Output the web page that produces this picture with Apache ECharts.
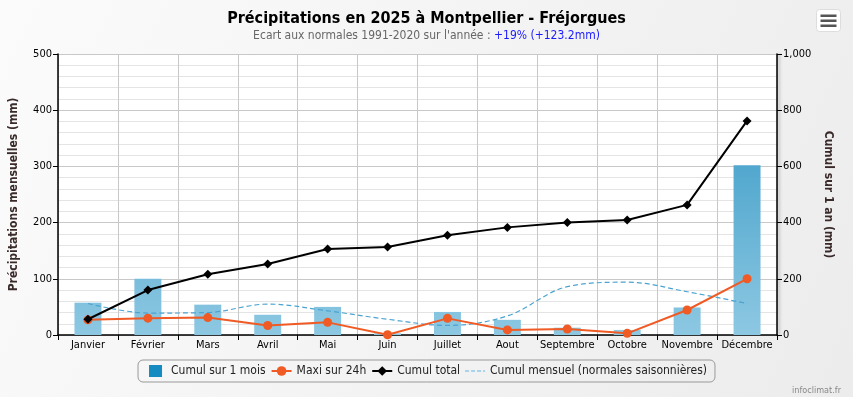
<!DOCTYPE html>
<html>
<head>
<meta charset="UTF-8">
<title>Précipitations 2025 Montpellier</title>
<style>
  html, body { margin: 0; padding: 0; }
  #chart { width: 853px; height: 397px; }
</style>
</head>
<body>
<div id="chart"></div>
<script src="https://cdn.jsdelivr.net/npm/echarts@6/dist/echarts.min.js"></script>
<script>
var mois = ['Janvier', 'Février', 'Mars', 'Avril', 'Mai', 'Juin', 'Juillet', 'Aout', 'Septembre', 'Octobre', 'Novembre', 'Décembre'];
var cumulMois = [57.5, 100, 54, 36, 50, 3, 41, 27, 13, 9, 49, 302];      // mm, barres
var maxi24h = [27, 30, 31, 17, 22.5, 0.5, 29.6, 9, 10.7, 3, 44.5, 100]; // mm
var cumulTotal = [56, 160, 216, 253, 306, 313, 355, 383, 400, 409, 463, 762]; // mm, axe droit
var normales = [56, 39, 40, 55, 43, 28, 17, 34, 86, 94, 77, 56];        // mm
var leftTicks = [0, 100, 200, 300, 400, 500];
var rightTicks = [0, 200, 400, 600, 800, 1000];

var font = 'DejaVu Sans Condensed, DejaVu Sans, sans-serif';
var myChart = echarts.init(document.getElementById('chart'));

// icones de legende (points quasi invisibles aux coins pour garder la boite 20x12)
var corners = 'M0,0h0.05v0.05h-0.05z M19.95,11.95h0.05v0.05h-0.05z ';
var dashIcon = 'path://' + corners + 'M0,5.1h4v1.8h-4z M6,5.1h4v1.8h-4z M12,5.1h4v1.8h-4z M18,5.1h2v1.8h-2z';
var squareIcon = 'path://' + corners + 'M3,0h13v12h-13z';

myChart.setOption({
  backgroundColor: new echarts.graphic.LinearGradient(0, 0, 1, 1, [
    { offset: 0, color: '#fbfbfb' }, { offset: 1, color: '#ececec' }
  ]),
  animation: false,
  textStyle: { fontFamily: font },
  title: {
    text: 'Précipitations en 2025 à Montpellier - Fréjorgues',
    left: 'center', top: 6,
    textStyle: { fontSize: 16, fontWeight: 'bold', color: '#000', fontFamily: font },
    subtext: "{g|Ecart aux normales 1991-2020 sur l'année : }{b|+19% (+123.2mm)}",
    itemGap: 3,
    subtextStyle: {
      rich: {
        g: { color: '#666', fontSize: 12, fontFamily: font },
        b: { color: '#1a1aff', fontSize: 12, fontFamily: font }
      }
    }
  },
  legend: {
    bottom: 15, left: 'center',
    borderColor: '#999', borderWidth: 1, borderRadius: 5,
    padding: [5, 8], itemGap: 5, itemWidth: 20, itemHeight: 12,
    textStyle: { fontSize: 12, color: '#222', fontFamily: font },
    data: [
      { name: 'Cumul sur 1 mois', icon: squareIcon, itemStyle: { color: '#168bc2' } },
      { name: 'Maxi sur 24h' },
      { name: 'Cumul total' },
      { name: 'Cumul mensuel (normales saisonnières)', icon: dashIcon, itemStyle: { color: '#a8d3ea' } }
    ]
  },
  grid: { left: 58, right: 76, top: 54, bottom: 62, show: true, backgroundColor: '#fff', borderWidth: 0 },
  xAxis: {
    type: 'category',
    data: mois,
    axisLine: { lineStyle: { color: '#000', width: 1.5 } },
    axisTick: { show: true, length: 5, lineStyle: { color: '#000' } },
    axisLabel: { color: '#000', fontSize: 11, margin: 5, interval: 0 },
    splitLine: { show: true, interval: 0, lineStyle: { color: '#c8c8c8' } }
  },
  yAxis: [{
    type: 'value', min: 0, max: 500, interval: 100,
    name: 'Précipitations mensuelles (mm)',
    nameLocation: 'middle', nameGap: 38, nameRotate: 90,
    nameTextStyle: { fontWeight: 'bold', fontSize: 12, color: '#3a2a2a' },
    axisLine: { show: true, lineStyle: { color: '#000', width: 1.5 } },
    axisTick: { show: true, length: 5, lineStyle: { color: '#000' } },
    axisLabel: { color: '#000', fontSize: 11, margin: 6,
      formatter: function (v) { return leftTicks.indexOf(v) >= 0 ? v : ''; } },
    splitLine: { lineStyle: { color: '#c8c8c8' } },
    minorTick: { show: false, splitNumber: 5 },
    minorSplitLine: { show: true, lineStyle: { color: '#e4e4e4' } }
  }, {
    type: 'value', min: 0, max: 1000, interval: 200,
    name: 'Cumul sur 1 an (mm)',
    nameLocation: 'middle', nameGap: 42, nameRotate: -90,
    nameTextStyle: { fontWeight: 'bold', fontSize: 12, color: '#3a2a2a' },
    position: 'right',
    axisLine: { show: true, lineStyle: { color: '#000', width: 1.5, shadowColor: 'rgba(0,0,0,0.25)', shadowBlur: 3, shadowOffsetX: 2 } },
    axisTick: { show: true, length: 5, lineStyle: { color: '#000' } },
    axisLabel: { color: '#000', fontSize: 11, margin: 6,
      formatter: function (v) { return rightTicks.indexOf(v) >= 0 ? v.toLocaleString('en-US') : ''; } },
    splitLine: { show: false }
  }],
  series: [{
    name: 'Cumul sur 1 mois',
    type: 'bar',
    yAxisIndex: 0,
    barWidth: '45%',
    data: cumulMois,
    itemStyle: {
      color: new echarts.graphic.LinearGradient(0, 54, 0, 335, [
        { offset: 0, color: '#2b92c2' }, { offset: 1, color: '#8dc8e2' }
      ], true)
    },
    z: 1
  }, {
    name: 'Cumul mensuel (normales saisonnières)',
    type: 'line',
    yAxisIndex: 0,
    smooth: 0.35,
    data: normales,
    symbol: 'none',
    lineStyle: { color: '#4aa3d0', width: 1.2, type: [5, 3] },
    itemStyle: { color: '#9ccbe4' },
    z: 2
  }, {
    name: 'Maxi sur 24h',
    type: 'line',
    yAxisIndex: 0,
    data: maxi24h,
    symbol: 'circle', symbolSize: 9,
    lineStyle: { color: '#f05a24', width: 2 },
    itemStyle: { color: '#f05a24' },
    z: 4
  }, {
    name: 'Cumul total',
    type: 'line',
    yAxisIndex: 1,
    data: cumulTotal,
    symbol: 'diamond', symbolSize: 9,
    lineStyle: { color: '#000', width: 2 },
    itemStyle: { color: '#000' },
    z: 5
  }],
  graphic: [{
    type: 'group', right: 12, top: 9,
    children: [
      { type: 'rect', shape: { x: 0, y: 0, width: 24, height: 22, r: 3 }, style: { fill: '#fff', stroke: '#ddd' } },
      { type: 'rect', shape: { x: 4, y: 5, width: 16, height: 2.5 }, style: { fill: '#555' } },
      { type: 'rect', shape: { x: 4, y: 10, width: 16, height: 2.5 }, style: { fill: '#555' } },
      { type: 'rect', shape: { x: 4, y: 15, width: 16, height: 2.5 }, style: { fill: '#555' } }
    ]
  }, {
    type: 'text', right: 12, bottom: 2,
    style: { text: 'infoclimat.fr', fill: '#888', fontSize: 9, fontFamily: font }
  }]
});
</script>
</body>
</html>
